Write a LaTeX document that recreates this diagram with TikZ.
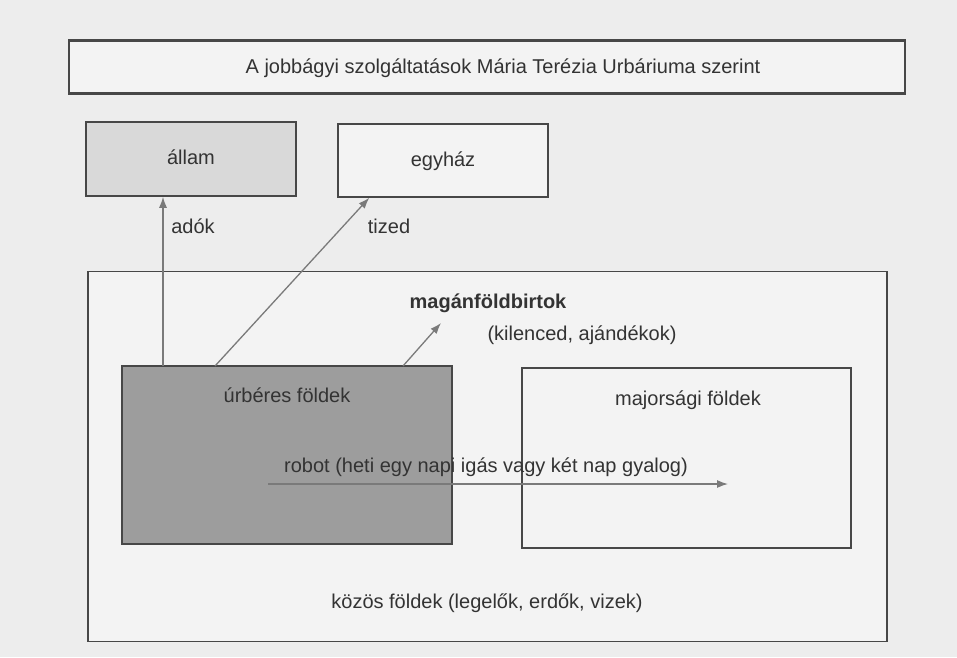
\documentclass[tikz,border=0pt]{standalone}
\usepackage{fontspec}
\setmainfont{Liberation Sans}
\usepackage{xcolor}
\usepackage{tikz}
\usetikzlibrary{positioning,calc,arrows.meta}
\definecolor{paper}{HTML}{EDEDED}
\definecolor{ink}{HTML}{333333}
\definecolor{frame}{HTML}{474747}
\definecolor{arrowgray}{HTML}{7A7A7A}
\definecolor{lightbox}{HTML}{D9D9D9}
\definecolor{darkbox}{HTML}{9D9D9D}
\definecolor{whitebox}{HTML}{F3F3F3}

\begin{document}
\begin{tikzpicture}[x=1pt, y=-1pt,
    box/.style={draw=frame, line width=1.5pt, rectangle, inner sep=0pt, fill=whitebox, text=ink, text height=15pt, text depth=4pt, font=\fontsize{20}{24}\selectfont},
    lbl/.style={text=ink, inner sep=1pt, text height=15pt, text depth=4pt, font=\fontsize{20}{24}\selectfont},
    arr/.style={draw=arrowgray, line width=1.3pt, -{Latex[length=11pt,width=8pt]}}]
    \useasboundingbox (0,0) rectangle (957,657);
    \fill[paper] (0,0) rectangle (957,657);

    \node[box, line width=2.5pt, minimum width=836pt, minimum height=53pt] (title) at (487,67) {};
    \node[lbl] (titletext) at (503,68) {A jobbágyi szolgáltatások Mária Terézia Urbáriuma szerint};

    \node[box, fill=lightbox, minimum width=210pt, minimum height=74pt] (allam) at (191,159) {állam};
    \node[box, minimum width=210pt, minimum height=73pt] (egyhaz) at (443,160.5) {egyház};

    \node[box, line width=1.7pt, minimum width=799pt, minimum height=370pt] (kozos) at (487.5,456.5) {};
    \node[box, fill=darkbox, minimum width=330pt, minimum height=178pt] (urberes) at (287,455) {};
    \node[box, minimum width=329pt, minimum height=180pt] (majorsag) at (686.5,458) {};

    \coordinate (adostart) at (163,366);
    \coordinate (tizedstart) at (215,366);
    \coordinate (maganstart) at (403,366);
    \coordinate (maganend) at (441,323);
    \coordinate (robotstart) at (268,484);
    \coordinate (robotend) at (728,484);

    \draw[arr] (adostart) -- (adostart |- allam.south);
    \draw[arr] (tizedstart) -- ([xshift=32pt]egyhaz.south west);
    \draw[arr] (maganstart) -- (maganend);
    \draw[arr] (robotstart) -- (robotend);

    \node[lbl] (adok) at (193,228) {adók};
    \node[lbl] (tized) at (389,228) {tized};
    \node[lbl, font=\fontsize{20}{24}\selectfont\bfseries] (maganlbl) at (488,303) {magánföldbirtok};
    \node[lbl] (kilenced) at (582,335) {(kilenced, ajándékok)};
    \node[lbl] (urbereslbl) at (287,397) {úrbéres földek};
    \node[lbl] (majorlbl) at (688,400) {majorsági földek};
    \node[lbl] (robotlbl) at (486,467) {robot (heti egy napi igás vagy két nap gyalog)};
    \node[lbl] (kozoslbl) at (487,603) {közös földek (legelők, erdők, vizek)};
\end{tikzpicture}
\end{document}
